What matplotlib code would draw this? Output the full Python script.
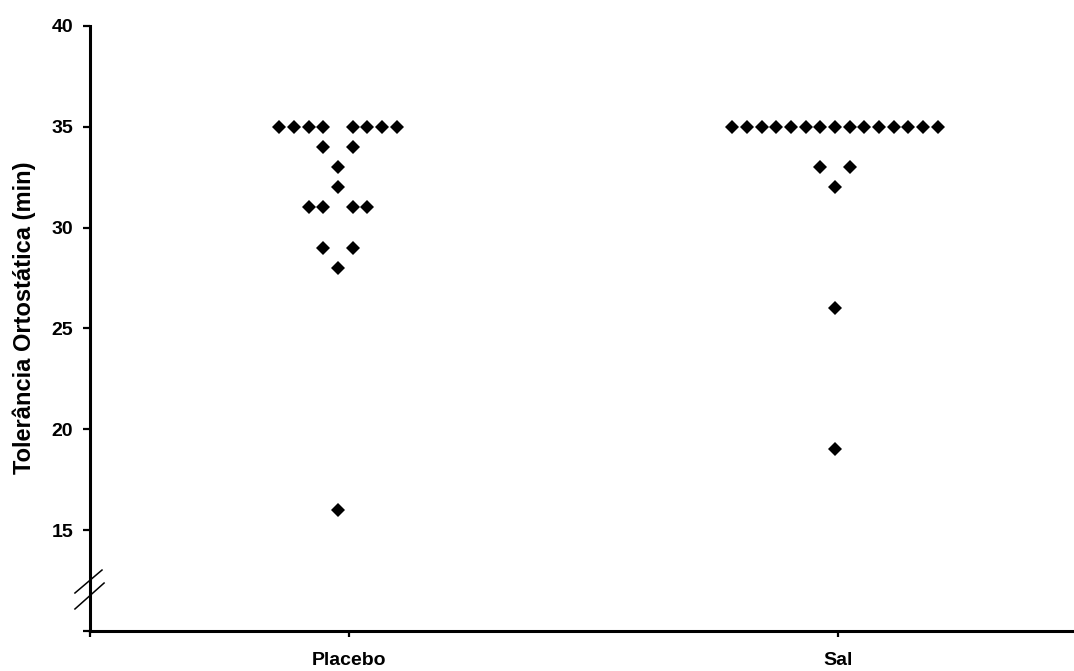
import matplotlib
matplotlib.use("Agg")
import matplotlib.pyplot as plt
from matplotlib.lines import Line2D

# tolerance times (min) for each subject, and the column slot each marker sits in
placebo_values = [35, 35, 35, 35, 35, 35, 35, 35, 34, 34, 33, 32, 31, 31, 31, 31, 29, 29, 28, 16]
placebo_slots = [-4, -3, -2, -1, 1, 2, 3, 4, -1, 1, 0, 0, -2, -1, 1, 2, -1, 1, 0, 0]

sal_values = [35] * 15 + [33, 33, 32, 26, 19]
sal_slots = list(range(-7, 8)) + [-1, 1, 0, 0, 0]

groups = ["Placebo", "Sal"]
y_ticks = [10, 15, 20, 25, 30, 35, 40]
y_tick_labels = ["", "15", "20", "25", "30", "35", "40"]

plt.rcParams["font.family"] = ["Liberation Sans", "DejaVu Sans"]
plt.rcParams["font.weight"] = "bold"

fig = plt.figure(figsize=(10.74, 6.71), dpi=100)
ax = fig.add_axes([0.0838, 0.0596, 0.9162, 0.9017])

slot_w = 0.030
centers = [0.9775, 1.994]
for center, vals, slots in [(centers[0], placebo_values, placebo_slots),
                            (centers[1], sal_values, sal_slots)]:
    xs = [center + s * slot_w for s in slots]
    ax.plot(xs, vals, linestyle="none", marker="D", markersize=7.4,
            color="black", markeredgewidth=0, clip_on=False)

x_left, x_right = 0.4703, 2.483
ax.set_xlim(x_left, x_right)
ax.set_ylim(10, 40)

ax.set_xticks([x_left, 1, 2])
ax.set_xticklabels(["", groups[0], groups[1]], fontsize=14, fontweight="bold")
ax.set_yticks(y_ticks)
ax.set_yticklabels(y_tick_labels, fontsize=14, fontweight="bold")
ax.tick_params(axis="y", direction="out", length=5, width=1.6, pad=7)
ax.tick_params(axis="x", direction="out", length=4, width=1.6, pad=11)

for side in ["top", "right"]:
    ax.spines[side].set_visible(False)
for side in ["left", "bottom"]:
    ax.spines[side].set_linewidth(2.2)

fig.text(24 / 1074, 1 - 318 / 671, "Tolerância Ortostática (min)", rotation=90,
         ha="center", va="center", fontsize=17, fontweight="bold")

# axis break marks on the y axis
for (x0, y0), (x1, y1) in [((-0.0153, 0.0628), (0.0122, 0.1008)),
                           ((-0.0153, 0.0364), (0.0143, 0.0793))]:
    ax.add_line(Line2D([x0, x1], [y0, y1], transform=ax.transAxes,
                       color="black", linewidth=1.1, clip_on=False))

fig.savefig("out.png", dpi=100)
